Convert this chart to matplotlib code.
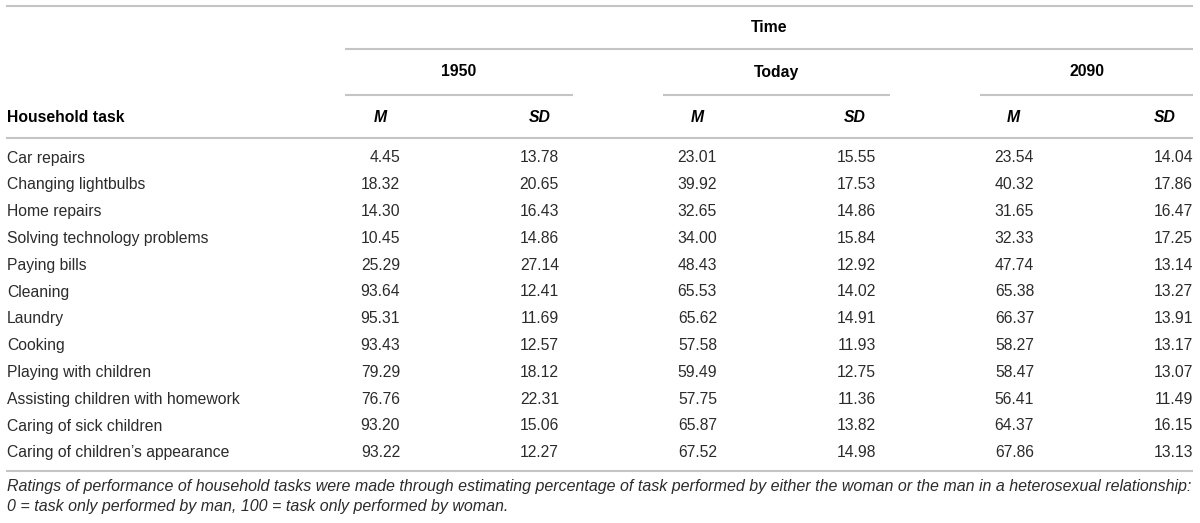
import matplotlib.pyplot as plt

# Data
tasks = ["Car repairs", "Changing lightbulbs", "Home repairs",
         "Solving technology problems", "Paying bills", "Cleaning", "Laundry",
         "Cooking", "Playing with children", "Assisting children with homework",
         "Caring of sick children", "Caring of children\u2019s appearance"]
m_1950 = [4.45, 18.32, 14.30, 10.45, 25.29, 93.64, 95.31, 93.43, 79.29, 76.76, 93.20, 93.22]
sd_1950 = [13.78, 20.65, 16.43, 14.86, 27.14, 12.41, 11.69, 12.57, 18.12, 22.31, 15.06, 12.27]
m_today = [23.01, 39.92, 32.65, 34.00, 48.43, 65.53, 65.62, 57.58, 59.49, 57.75, 65.87, 67.52]
sd_today = [15.55, 17.53, 14.86, 15.84, 12.92, 14.02, 14.91, 11.93, 12.75, 11.36, 13.82, 14.98]
m_2090 = [23.54, 40.32, 31.65, 32.33, 47.74, 65.38, 66.37, 58.27, 58.47, 56.41, 64.37, 67.86]
sd_2090 = [14.04, 17.86, 16.47, 17.25, 13.14, 13.27, 13.91, 13.17, 13.07, 11.49, 16.15, 13.13]
groups = ["1950", "Today", "2090"]
note_lines = ["Ratings of performance of household tasks were made through estimating percentage of task "
              "performed by either the woman or the man in a heterosexual relationship:",
              "0 = task only performed by man, 100 = task only performed by woman."]

plt.rcParams['font.family'] = ['Liberation Sans', 'DejaVu Sans']

fig = plt.figure(figsize=(12, 5.23), dpi=100)
ax = fig.add_axes([0, 0, 1, 1])
ax.set_xlim(0, 1200)
ax.set_ylim(523, 0)
ax.axis('off')

line_col = '#c4c4c4'
txt_col = '#2b2b2b'
fs = 11.3

# Column layout (pixels)
left = 6
right = 1193
group_spans = [(345, 573), (663, 890), (980, 1193)]
col_right = [(400, 559), (717, 876), (1034, 1193)]
head_center = [(380, 540), (697, 855), (1013, 1165)]

# Rules
ax.hlines(6, left, right, color=line_col, lw=1.5)
ax.hlines(49, 345, right, color=line_col, lw=1.5)
for a, b in group_spans:
    ax.hlines(95, a, b, color=line_col, lw=1.5)
ax.hlines(138, left, right, color=line_col, lw=1.5)
ax.hlines(471, left, right, color=line_col, lw=1.5)

# Headers
ax.text(769, 27, "Time", ha='center', va='center', fontsize=fs, fontweight='bold', color='black')
for (a, b), g in zip(group_spans, groups):
    ax.text((a + b) / 2, 72, g, ha='center', va='center', fontsize=fs, fontweight='bold', color='black')
ax.text(left + 1, 118, "Household task", ha='left', va='center', fontsize=fs,
        fontweight='bold', color='black')
for cm, cs in head_center:
    ax.text(cm, 118, "M", ha='center', va='center', fontsize=fs, fontweight='bold',
            fontstyle='italic', color='black')
    ax.text(cs, 118, "SD", ha='center', va='center', fontsize=fs, fontweight='bold',
            fontstyle='italic', color='black')

# Body
cols = [(m_1950, sd_1950), (m_today, sd_today), (m_2090, sd_2090)]
for i, task in enumerate(tasks):
    y = 158 + i * 26.8
    ax.text(left + 1, y, task, ha='left', va='center', fontsize=fs, color=txt_col)
    for (mv, sv), (xm, xs) in zip(cols, col_right):
        ax.text(xm, y, f"{mv[i]:.2f}", ha='right', va='center', fontsize=fs, color=txt_col)
        ax.text(xs, y, f"{sv[i]:.2f}", ha='right', va='center', fontsize=fs, color=txt_col)

# Footnote (first line runs to the right edge of the table)
notes = [ax.text(left + 1, 486 + j * 21, line, ha='left', va='center', fontsize=fs,
                 fontstyle='italic', color=txt_col)
         for j, line in enumerate(note_lines)]
r = fig.canvas.get_renderer()
w = notes[0].get_window_extent(r).width
nfs = fs * (right - left - 1) / w
for t in notes:
    t.set_fontsize(nfs)

fig.savefig('out.png', dpi=100)
